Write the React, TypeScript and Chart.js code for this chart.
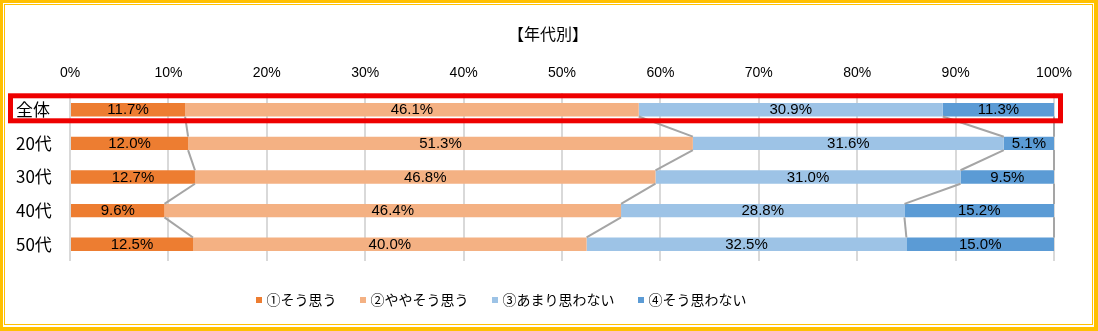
import React, { useEffect, useRef } from 'react';
import { Chart, registerables } from 'chart.js';

Chart.register(...registerables);

const chartTitle = '【年代別】';
const categories = ['全体', '20代', '30代', '40代', '50代'];
const seriesNames = ['①そう思う', '②ややそう思う', '③あまり思わない', '④そう思わない'];
const seriesColors = ['#ED7D31', '#F4B183', '#9DC3E6', '#5B9BD5'];
const stronglyAgree = [11.7, 12.0, 12.7, 9.6, 12.5];
const somewhatAgree = [46.1, 51.3, 46.8, 46.4, 40.0];
const somewhatDisagree = [30.9, 31.6, 31.0, 28.8, 32.5];
const stronglyDisagree = [11.3, 5.1, 9.5, 15.2, 15.0];
const seriesValues = [stronglyAgree, somewhatAgree, somewhatDisagree, stronglyDisagree];
const highlightedCategory = 0;

const CJK = '"Noto Sans CJK JP", "Noto Sans", sans-serif';
const LATIN = '"Liberation Sans", Arial, sans-serif';

const decorPlugin = {
  id: 'decor',
  beforeDraw(chart: any) {
    const { ctx, width, height } = chart;
    ctx.save();
    ctx.fillStyle = '#FFFFFF';
    ctx.fillRect(0, 0, width, height);
    ctx.restore();
  },
  afterDatasetsDraw(chart: any) {
    const { ctx } = chart;
    ctx.save();
    // series lines
    ctx.strokeStyle = '#A5A5A5';
    ctx.lineWidth = 2;
    chart.data.datasets.forEach((_: any, d: number) => {
      const meta = chart.getDatasetMeta(d);
      for (let i = 0; i < meta.data.length - 1; i++) {
        const a: any = meta.data[i];
        const b: any = meta.data[i + 1];
        ctx.beginPath();
        ctx.moveTo(a.x, a.y + a.height / 2);
        ctx.lineTo(b.x, b.y - b.height / 2);
        ctx.stroke();
      }
    });
    // data labels
    ctx.fillStyle = '#000000';
    ctx.font = `15px ${LATIN}`;
    ctx.textAlign = 'center';
    ctx.textBaseline = 'middle';
    chart.data.datasets.forEach((ds: any, d: number) => {
      const meta = chart.getDatasetMeta(d);
      meta.data.forEach((el: any, i: number) => {
        const v = ds.data[i];
        ctx.fillText(v.toFixed(1) + '%', (el.x + el.base) / 2, el.y + 0.5);
      });
    });
    ctx.restore();
  },
  afterDraw(chart: any) {
    const { ctx, chartArea, width, height } = chart;
    const yScale = chart.scales.y;
    ctx.save();
    // highlight rectangle
    const cy = yScale.getPixelForValue(highlightedCategory);
    ctx.strokeStyle = '#EE0000';
    ctx.lineWidth = 5;
    ctx.strokeRect(10.5, cy - 14, chartArea.right + 6.5 - 10.5, 25);
    // title
    ctx.fillStyle = '#000000';
    ctx.font = `16px ${CJK}`;
    ctx.textAlign = 'center';
    ctx.textBaseline = 'middle';
    ctx.fillText(chartTitle, 548, 34);
    // legend
    ctx.font = `14px ${CJK}`;
    ctx.textAlign = 'left';
    let x = 256;
    seriesNames.forEach((name, i) => {
      ctx.fillStyle = seriesColors[i];
      ctx.fillRect(x, 297, 6, 6);
      x += 6 + 4.5;
      ctx.fillStyle = '#000000';
      ctx.fillText(name, x, 300);
      x += ctx.measureText(name).width + 23.5;
    });
    // double border
    ctx.fillStyle = '#FFC000';
    ctx.fillRect(0, 0, width, 3);
    ctx.fillRect(0, 0, 3, height);
    ctx.fillRect(width - 4, 0, 4, height);
    ctx.fillRect(0, height - 4, width, 4);
    ctx.fillRect(4, 4, width - 10, 1);
    ctx.fillRect(4, 4, 1, height - 10);
    ctx.fillRect(width - 6, 4, 1, height - 10);
    ctx.fillRect(4, height - 7, width - 10, 1);
    ctx.restore();
  },
};

export default function App() {
  const ref = useRef<HTMLCanvasElement>(null);
  useEffect(() => {
    const canvas = ref.current!;
    const chart = new Chart(canvas, {
      type: 'bar',
      data: {
        labels: categories,
        datasets: seriesValues.map((vals, i) => ({
          label: seriesNames[i],
          data: vals,
          backgroundColor: seriesColors[i],
          borderWidth: 0,
          barPercentage: 0.4,
          categoryPercentage: 1,
        })),
      },
      options: {
        indexAxis: 'y',
        responsive: false,
        animation: false,
        devicePixelRatio: 1,
        layout: { padding: { left: 16, right: 44, top: 0, bottom: 70 } },
        plugins: {
          legend: { display: false },
          title: { display: false },
          tooltip: { enabled: false },
        },
        scales: {
          x: {
            position: 'top',
            stacked: true,
            min: 0,
            max: 100,
            ticks: {
              stepSize: 10,
              padding: 11,
              color: '#000000',
              font: { family: LATIN, size: 14 },
              callback: (v: any) => v + '%',
            },
            grid: { color: '#D9D9D9', lineWidth: 2, drawTicks: false },
            border: { display: false },
            afterFit: (s: any) => { s.height = 93; },
          },
          y: {
            stacked: true,
            ticks: {
              crossAlign: 'far',
              color: '#000000',
              font: { family: CJK, size: 17 },
            },
            grid: { display: false, drawTicks: false },
            border: { display: false },
            afterFit: (s: any) => { s.width = 54; },
          },
        },
      } as any,
      plugins: [decorPlugin],
    });
    return () => chart.destroy();
  }, []);
  return (
    <div style={{ position: 'absolute', left: 0, top: 0, width: 1098, height: 331 }}>
      <canvas ref={ref} width={1098} height={331} style={{ display: 'block', width: 1098, height: 331 }} />
    </div>
  );
}
